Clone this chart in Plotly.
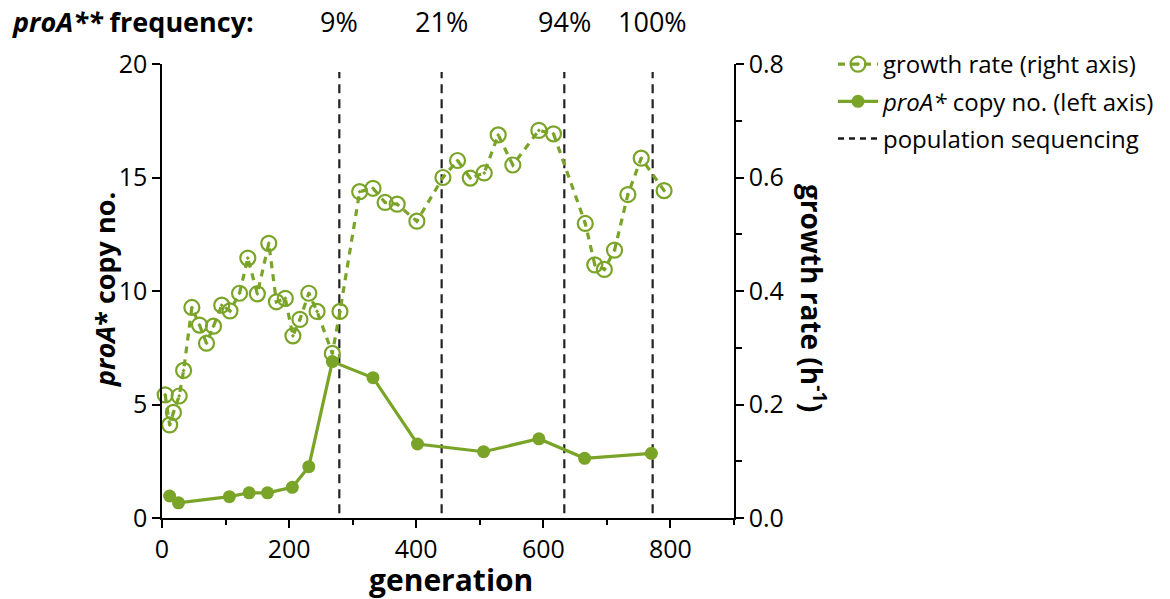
import plotly.graph_objects as go

# ---------------- data ----------------
gen_growth = [5, 12, 18, 27, 34, 47, 59, 70, 81, 94, 107, 122, 135, 150, 168,
              180, 194, 206, 217, 231, 244, 268, 280, 311, 332, 351, 370, 401,
              442, 465, 485, 507, 529, 552, 593, 616, 666, 681, 696, 712, 733,
              754, 790]
growth_rate = [0.217, 0.164, 0.186, 0.215, 0.260, 0.371, 0.340, 0.308, 0.338,
               0.375, 0.365, 0.396, 0.458, 0.395, 0.484, 0.381, 0.387, 0.321,
               0.350, 0.396, 0.364, 0.290, 0.364, 0.575, 0.581, 0.556, 0.553,
               0.523, 0.600, 0.630, 0.599, 0.608, 0.675, 0.622, 0.683, 0.677,
               0.519, 0.446, 0.438, 0.472, 0.570, 0.634, 0.577]

gen_copy = [12, 26, 106, 137, 166, 205, 231, 268, 332, 402, 506, 593, 665, 770]
copy_no = [0.97, 0.67, 0.94, 1.11, 1.11, 1.35, 2.26, 6.89, 6.18, 3.26, 2.92,
           3.49, 2.63, 2.85]

seq_gen = [279, 440, 633, 772]
seq_freq = ["9%", "21%", "94%", "100%"]

x_ticks = [0, 200, 400, 600, 800]
y_left_ticks = [0, 5, 10, 15, 20]
y_right_ticks = [0.0, 0.2, 0.4, 0.6, 0.8]

GREEN = "#7aa428"
FONT = "Open Sans"

# plot area in pixels: x 162..734, y 64..518
PL, PR, PT, PB = 162, 734, 64, 518
PW, PH = PR - PL, PB - PT


def px(xp):
    return (xp - PL) / PW


def py(yp):
    return (PB - yp) / PH


# ---------------- figure ----------------
fig = go.Figure()

fig.add_trace(go.Scatter(
    x=gen_growth, y=growth_rate, yaxis="y2", mode="lines+markers",
    name="growth rate (right axis)", legendgroup="a",
    line=dict(color=GREEN, width=3.2, dash="7px,6px"),
    marker=dict(symbol="circle-open-dot", size=15, color=GREEN,
                line=dict(width=2.2, color=GREEN)),
    cliponaxis=False,
))
fig.add_trace(go.Scatter(
    x=gen_copy, y=copy_no, yaxis="y", mode="lines+markers",
    name="<i>proA*</i> copy no. (left axis)", legendgroup="b",
    line=dict(color=GREEN, width=3.2),
    marker=dict(symbol="circle", size=13, color=GREEN),
    cliponaxis=False,
))
fig.add_trace(go.Scatter(
    x=[None], y=[None], mode="lines", name="population sequencing",
    legendgroup="c",
    line=dict(color="#1a1a1a", width=2.5, dash="6px,5px"),
))

for g in seq_gen:
    fig.add_shape(type="line", xref="x", yref="y", x0=g, x1=g, y0=-0.45,
                  y1=19.65, line=dict(color="#222222", width=2.2,
                                      dash="9px,6px"), layer="below")

annotations = []
for g, f in zip(seq_gen, seq_freq):
    annotations.append(dict(x=g, xref="x", y=py(22), yref="paper", text=f,
                            showarrow=False, xanchor="center",
                            yanchor="middle",
                            font=dict(size=27, color="black", family=FONT)))
annotations.append(dict(x=px(10), xref="paper", y=py(22), yref="paper",
                        text="<b><i>proA**</i> frequency:</b>",
                        showarrow=False, xanchor="left", yanchor="middle",
                        font=dict(size=27, color="black", family=FONT)))
# axis titles
annotations.append(dict(x=px(104), xref="paper", y=py(290), yref="paper",
                        text="<b><i>proA</i>* copy no.</b>", textangle=-90,
                        showarrow=False, xanchor="center", yanchor="middle",
                        font=dict(size=27, color="black", family=FONT)))
annotations.append(dict(x=px(814), xref="paper", y=py(298), yref="paper",
                        text="<b>growth rate (h<sup>-1</sup>)</b>",
                        textangle=90, showarrow=False, xanchor="center",
                        yanchor="middle",
                        font=dict(size=28, color="black", family=FONT)))
annotations.append(dict(x=px(451), xref="paper", y=py(579), yref="paper",
                        text="<b>generation</b>", showarrow=False,
                        xanchor="center", yanchor="middle",
                        font=dict(size=30, color="black", family=FONT)))

fig.update_layout(
    width=1170, height=599,
    margin=dict(l=PL, r=1170 - PR, t=PT, b=599 - PB, pad=0),
    paper_bgcolor="white", plot_bgcolor="white",
    font=dict(family=FONT, size=24, color="black"),
    showlegend=True,
    legend=dict(xref="container", yref="container", x=833 / 1170,
                y=1 - 42 / 599, xanchor="left", yanchor="top",
                font=dict(size=24, family=FONT, color="black"),
                traceorder="grouped", tracegroupgap=3, itemwidth=40,
                bgcolor="rgba(0,0,0,0)"),
    annotations=annotations,
    xaxis=dict(range=[0, 900], tickvals=x_ticks, showline=True,
               linecolor="black", linewidth=1.5, ticks="outside",
               ticklen=8, tickwidth=1.5, tickcolor="black",
               showgrid=False, zeroline=False,
               tickfont=dict(size=25, family=FONT),
               minor=dict(ticks="outside", dtick=100, tick0=0, ticklen=5,
                          tickwidth=1.5, tickcolor="black", showgrid=False)),
    yaxis=dict(range=[0, 20], tickvals=y_left_ticks, showline=True,
               linecolor="black", linewidth=1.5, ticks="outside",
               ticklen=8, tickwidth=1.5, tickcolor="black",
               showgrid=False, zeroline=False,
               tickfont=dict(size=25, family=FONT)),
    yaxis2=dict(range=[0, 0.8], tickvals=y_right_ticks, tickformat=".1f",
                overlaying="y", side="right", anchor="x", showline=True,
                linecolor="black", linewidth=1.5, ticks="outside",
                ticklen=8, tickwidth=1.5, tickcolor="black",
                showgrid=False, zeroline=False,
                tickfont=dict(size=25, family=FONT),
                minor=dict(ticks="outside", dtick=0.1, tick0=0, ticklen=6,
                           tickwidth=1.5, tickcolor="black",
                           showgrid=False)),
)

fig.write_html("out.html",
               config={"displayModeBar": False},
               post_script="document.body.style.margin='0';"
                           "document.body.style.overflow='hidden';")
